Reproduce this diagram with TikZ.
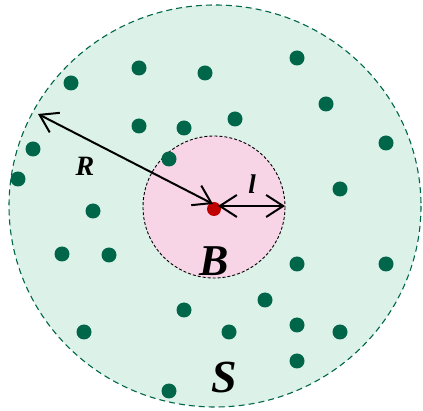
\documentclass[tikz,border=0pt]{standalone}
\usepackage{fontspec}
\setmainfont{Liberation Serif}
\usetikzlibrary{arrows.meta}
\definecolor{mint}{HTML}{DCF1E8}
\definecolor{dkgreen}{HTML}{00664A}
\definecolor{pinkfill}{HTML}{F8D5E6}
\definecolor{reddot}{HTML}{C00000}
\tikzset{
  dot/.style={circle,fill=dkgreen,inner sep=0pt,minimum size=15pt},
  centerdot/.style={circle,fill=reddot,inner sep=0pt,minimum size=14pt},
  arr/.style={line width=2pt,{Straight Barb[length=17pt,width=22pt,line width=2pt]}-{Straight Barb[length=17pt,width=22pt,line width=2pt]}},
  lbl/.style={font=\bfseries\itshape,inner sep=0pt}
}
\begin{document}
\begin{tikzpicture}[x=1pt,y=-1pt]
\useasboundingbox (0,0) rectangle (423,411);
% big region S
\draw[fill=mint,draw=dkgreen,line width=1.1pt,dash pattern=on 6pt off 4pt] (215,206) ellipse [x radius=206,y radius=201];
% small region B
\draw[fill=pinkfill,draw=black,line width=0.9pt,dash pattern=on 3pt off 2pt] (214,207) circle [radius=71];
% dots
\foreach \x/\y [count=\i] in {71/83,139/68,205/73,297/58,326/104,139/126,184/128,235/119,386/143,33/149,18/179,169/159,93/211,340/189,62/254,109/255,297/264,386/264,184/310,265/300,84/332,229/332,297/325,340/332,297/361,169/391}
  \node[dot] (d\i) at (\x,\y) {};
\node[centerdot] (c) at (214,209) {};
\coordinate (rtail) at (38,114);
\coordinate (rtip) at (213,204);
\coordinate (lleft) at (218,206);
\coordinate (lright) at (285,206);
\draw[arr] (rtail) -- (rtip);
\draw[arr] (lleft) -- (lright);
\node[lbl,font=\fontsize{28}{28}\selectfont\bfseries\itshape] (R) at (85,166) {R};
\node[lbl,font=\fontsize{27}{27}\selectfont\bfseries\itshape] (l) at (252,184) {l};
\node[lbl,font=\fontsize{44}{44}\selectfont\bfseries\itshape] (B) at (214,261) {B};
\node[lbl,font=\fontsize{46}{46}\selectfont\bfseries\itshape] (S) at (224,377) {S};
\end{tikzpicture}
\end{document}
